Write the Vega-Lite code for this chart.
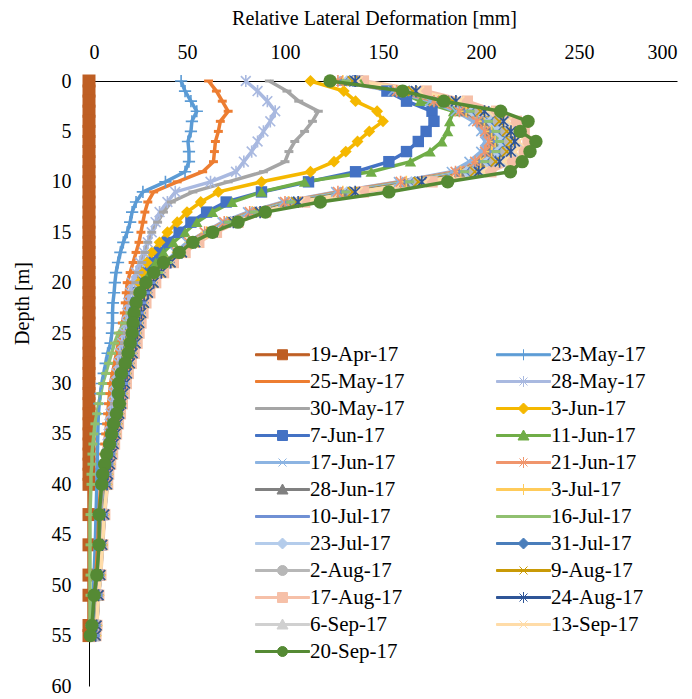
{
"$schema":"https://vega.github.io/schema/vega-lite/v6.json",
"autosize":{"type":"none"},
"width":588,"height":605,
"padding":{"left":89,"top":81,"right":15,"bottom":13},
"background":"white",
"datasets":{"prof":[
{"s":"19-Apr-17","d":0,"v":0},{"s":"19-Apr-17","d":1,"v":0},{"s":"19-Apr-17","d":2,"v":0},{"s":"19-Apr-17","d":3,"v":0},{"s":"19-Apr-17","d":4,"v":0},{"s":"19-Apr-17","d":5,"v":0},{"s":"19-Apr-17","d":6,"v":0},{"s":"19-Apr-17","d":7,"v":0},{"s":"19-Apr-17","d":8,"v":0},{"s":"19-Apr-17","d":9,"v":0},{"s":"19-Apr-17","d":10,"v":0},{"s":"19-Apr-17","d":11,"v":0},{"s":"19-Apr-17","d":12,"v":0},{"s":"19-Apr-17","d":13,"v":0},{"s":"19-Apr-17","d":14,"v":0},{"s":"19-Apr-17","d":15,"v":0},{"s":"19-Apr-17","d":16,"v":0},{"s":"19-Apr-17","d":17,"v":0},{"s":"19-Apr-17","d":18,"v":0},{"s":"19-Apr-17","d":19,"v":0},{"s":"19-Apr-17","d":20,"v":0},{"s":"19-Apr-17","d":21,"v":0},{"s":"19-Apr-17","d":22,"v":0},{"s":"19-Apr-17","d":23,"v":0},{"s":"19-Apr-17","d":24,"v":0},{"s":"19-Apr-17","d":25,"v":0},{"s":"19-Apr-17","d":26,"v":0},{"s":"19-Apr-17","d":27,"v":0},{"s":"19-Apr-17","d":28,"v":0},{"s":"19-Apr-17","d":29,"v":0},{"s":"19-Apr-17","d":30,"v":0},{"s":"19-Apr-17","d":31,"v":0},{"s":"19-Apr-17","d":32,"v":0},{"s":"19-Apr-17","d":33,"v":0},{"s":"19-Apr-17","d":34,"v":0},{"s":"19-Apr-17","d":35,"v":0},{"s":"19-Apr-17","d":36,"v":0},{"s":"19-Apr-17","d":37,"v":0},{"s":"19-Apr-17","d":38,"v":0},{"s":"19-Apr-17","d":39,"v":0},{"s":"19-Apr-17","d":40,"v":0},{"s":"19-Apr-17","d":43,"v":0},{"s":"19-Apr-17","d":46,"v":0},{"s":"19-Apr-17","d":49,"v":0},{"s":"19-Apr-17","d":51,"v":0},{"s":"19-Apr-17","d":54,"v":0},{"s":"19-Apr-17","d":55,"v":0},
{"s":"23-May-17","d":0,"v":47},{"s":"23-May-17","d":1,"v":49},{"s":"23-May-17","d":2,"v":52},{"s":"23-May-17","d":3,"v":55},{"s":"23-May-17","d":4,"v":52.5},{"s":"23-May-17","d":5,"v":52},{"s":"23-May-17","d":6,"v":50.5},{"s":"23-May-17","d":7,"v":51},{"s":"23-May-17","d":8,"v":51},{"s":"23-May-17","d":9,"v":49},{"s":"23-May-17","d":10,"v":39},{"s":"23-May-17","d":11,"v":27.5},{"s":"23-May-17","d":12,"v":24},{"s":"23-May-17","d":13,"v":22},{"s":"23-May-17","d":14,"v":21},{"s":"23-May-17","d":15,"v":19.5},{"s":"23-May-17","d":16,"v":17.5},{"s":"23-May-17","d":17,"v":16},{"s":"23-May-17","d":18,"v":14.8},{"s":"23-May-17","d":19,"v":13.8},{"s":"23-May-17","d":20,"v":13.2},{"s":"23-May-17","d":21,"v":12.8},{"s":"23-May-17","d":22,"v":12.2},{"s":"23-May-17","d":23,"v":12},{"s":"23-May-17","d":24,"v":12},{"s":"23-May-17","d":25,"v":11.7},{"s":"23-May-17","d":26,"v":11},{"s":"23-May-17","d":27,"v":9.5},{"s":"23-May-17","d":28,"v":8.5},{"s":"23-May-17","d":29,"v":7.5},{"s":"23-May-17","d":30,"v":6.5},{"s":"23-May-17","d":31,"v":5.8},{"s":"23-May-17","d":32,"v":5.2},{"s":"23-May-17","d":33,"v":4.8},{"s":"23-May-17","d":34,"v":4.6},{"s":"23-May-17","d":35,"v":4.5},{"s":"23-May-17","d":36,"v":4.4},{"s":"23-May-17","d":37,"v":4.3},{"s":"23-May-17","d":38,"v":4.2},{"s":"23-May-17","d":39,"v":4.1},{"s":"23-May-17","d":40,"v":4},{"s":"23-May-17","d":43,"v":3.6},{"s":"23-May-17","d":46,"v":3.2},{"s":"23-May-17","d":49,"v":2.6},{"s":"23-May-17","d":51,"v":2.2},{"s":"23-May-17","d":54,"v":1.5},{"s":"23-May-17","d":55,"v":1.2},
{"s":"25-May-17","d":0,"v":61},{"s":"25-May-17","d":1,"v":65},{"s":"25-May-17","d":2,"v":68},{"s":"25-May-17","d":3,"v":71},{"s":"25-May-17","d":4,"v":67},{"s":"25-May-17","d":5,"v":66},{"s":"25-May-17","d":6,"v":64.5},{"s":"25-May-17","d":7,"v":64},{"s":"25-May-17","d":8,"v":63.5},{"s":"25-May-17","d":9,"v":58},{"s":"25-May-17","d":10,"v":45},{"s":"25-May-17","d":11,"v":33},{"s":"25-May-17","d":12,"v":30},{"s":"25-May-17","d":13,"v":28.5},{"s":"25-May-17","d":14,"v":27.5},{"s":"25-May-17","d":15,"v":26.5},{"s":"25-May-17","d":16,"v":25.5},{"s":"25-May-17","d":17,"v":24},{"s":"25-May-17","d":18,"v":22.5},{"s":"25-May-17","d":19,"v":21},{"s":"25-May-17","d":20,"v":19.5},{"s":"25-May-17","d":21,"v":19},{"s":"25-May-17","d":22,"v":18.5},{"s":"25-May-17","d":23,"v":18},{"s":"25-May-17","d":24,"v":17},{"s":"25-May-17","d":25,"v":16},{"s":"25-May-17","d":26,"v":15},{"s":"25-May-17","d":27,"v":14},{"s":"25-May-17","d":28,"v":13},{"s":"25-May-17","d":29,"v":12},{"s":"25-May-17","d":30,"v":11},{"s":"25-May-17","d":31,"v":10.5},{"s":"25-May-17","d":32,"v":10},{"s":"25-May-17","d":33,"v":9.5},{"s":"25-May-17","d":34,"v":9},{"s":"25-May-17","d":35,"v":8.5},{"s":"25-May-17","d":36,"v":8},{"s":"25-May-17","d":37,"v":7.5},{"s":"25-May-17","d":38,"v":7},{"s":"25-May-17","d":39,"v":6.5},{"s":"25-May-17","d":40,"v":6},{"s":"25-May-17","d":43,"v":5},{"s":"25-May-17","d":46,"v":4.5},{"s":"25-May-17","d":49,"v":3.5},{"s":"25-May-17","d":51,"v":3},{"s":"25-May-17","d":54,"v":2},{"s":"25-May-17","d":55,"v":1.5},
{"s":"28-May-17","d":0,"v":80},{"s":"28-May-17","d":1,"v":86},{"s":"28-May-17","d":2,"v":91},{"s":"28-May-17","d":3,"v":95},{"s":"28-May-17","d":4,"v":92.5},{"s":"28-May-17","d":5,"v":89},{"s":"28-May-17","d":6,"v":86},{"s":"28-May-17","d":7,"v":83},{"s":"28-May-17","d":8,"v":79},{"s":"28-May-17","d":9,"v":75},{"s":"28-May-17","d":10,"v":62},{"s":"28-May-17","d":11,"v":44},{"s":"28-May-17","d":12,"v":40},{"s":"28-May-17","d":13,"v":36},{"s":"28-May-17","d":14,"v":34},{"s":"28-May-17","d":15,"v":32},{"s":"28-May-17","d":16,"v":30},{"s":"28-May-17","d":17,"v":28},{"s":"28-May-17","d":18,"v":26},{"s":"28-May-17","d":19,"v":24},{"s":"28-May-17","d":20,"v":22},{"s":"28-May-17","d":21,"v":21},{"s":"28-May-17","d":22,"v":20},{"s":"28-May-17","d":23,"v":19.5},{"s":"28-May-17","d":24,"v":19},{"s":"28-May-17","d":25,"v":18},{"s":"28-May-17","d":26,"v":17},{"s":"28-May-17","d":27,"v":16},{"s":"28-May-17","d":28,"v":15},{"s":"28-May-17","d":29,"v":14},{"s":"28-May-17","d":30,"v":13},{"s":"28-May-17","d":31,"v":12.5},{"s":"28-May-17","d":32,"v":12},{"s":"28-May-17","d":33,"v":11},{"s":"28-May-17","d":34,"v":10.5},{"s":"28-May-17","d":35,"v":10},{"s":"28-May-17","d":36,"v":9.5},{"s":"28-May-17","d":37,"v":9},{"s":"28-May-17","d":38,"v":8.5},{"s":"28-May-17","d":39,"v":8},{"s":"28-May-17","d":40,"v":7.5},{"s":"28-May-17","d":43,"v":6},{"s":"28-May-17","d":46,"v":5.5},{"s":"28-May-17","d":49,"v":4.5},{"s":"28-May-17","d":51,"v":3.5},{"s":"28-May-17","d":54,"v":2.5},{"s":"28-May-17","d":55,"v":2},
{"s":"30-May-17","d":0,"v":92},{"s":"30-May-17","d":1,"v":101},{"s":"30-May-17","d":2,"v":107},{"s":"30-May-17","d":3,"v":117},{"s":"30-May-17","d":4,"v":114},{"s":"30-May-17","d":5,"v":110},{"s":"30-May-17","d":6,"v":105},{"s":"30-May-17","d":7,"v":102},{"s":"30-May-17","d":8,"v":100},{"s":"30-May-17","d":9,"v":89},{"s":"30-May-17","d":10,"v":71},{"s":"30-May-17","d":11,"v":53},{"s":"30-May-17","d":12,"v":42},{"s":"30-May-17","d":13,"v":38},{"s":"30-May-17","d":14,"v":35},{"s":"30-May-17","d":15,"v":32},{"s":"30-May-17","d":16,"v":30},{"s":"30-May-17","d":17,"v":28.5},{"s":"30-May-17","d":18,"v":27},{"s":"30-May-17","d":19,"v":25.5},{"s":"30-May-17","d":20,"v":24},{"s":"30-May-17","d":21,"v":23},{"s":"30-May-17","d":22,"v":22},{"s":"30-May-17","d":23,"v":21},{"s":"30-May-17","d":24,"v":20},{"s":"30-May-17","d":25,"v":19},{"s":"30-May-17","d":26,"v":18},{"s":"30-May-17","d":27,"v":17},{"s":"30-May-17","d":28,"v":16},{"s":"30-May-17","d":29,"v":15},{"s":"30-May-17","d":30,"v":14},{"s":"30-May-17","d":31,"v":13.5},{"s":"30-May-17","d":32,"v":13},{"s":"30-May-17","d":33,"v":12},{"s":"30-May-17","d":34,"v":11.5},{"s":"30-May-17","d":35,"v":11},{"s":"30-May-17","d":36,"v":10},{"s":"30-May-17","d":37,"v":9.5},{"s":"30-May-17","d":38,"v":9},{"s":"30-May-17","d":39,"v":8.5},{"s":"30-May-17","d":40,"v":8},{"s":"30-May-17","d":43,"v":6.5},{"s":"30-May-17","d":46,"v":6},{"s":"30-May-17","d":49,"v":5},{"s":"30-May-17","d":51,"v":4},{"s":"30-May-17","d":54,"v":3},{"s":"30-May-17","d":55,"v":2.5},
{"s":"3-Jun-17","d":0,"v":113},{"s":"3-Jun-17","d":1,"v":130},{"s":"3-Jun-17","d":2,"v":136},{"s":"3-Jun-17","d":3,"v":147},{"s":"3-Jun-17","d":4,"v":150},{"s":"3-Jun-17","d":5,"v":143},{"s":"3-Jun-17","d":6,"v":137},{"s":"3-Jun-17","d":7,"v":131},{"s":"3-Jun-17","d":8,"v":125},{"s":"3-Jun-17","d":9,"v":113},{"s":"3-Jun-17","d":10,"v":88},{"s":"3-Jun-17","d":11,"v":66},{"s":"3-Jun-17","d":12,"v":57},{"s":"3-Jun-17","d":13,"v":50},{"s":"3-Jun-17","d":14,"v":45},{"s":"3-Jun-17","d":15,"v":40},{"s":"3-Jun-17","d":16,"v":36},{"s":"3-Jun-17","d":17,"v":32},{"s":"3-Jun-17","d":18,"v":29.5},{"s":"3-Jun-17","d":19,"v":27},{"s":"3-Jun-17","d":20,"v":25},{"s":"3-Jun-17","d":21,"v":24},{"s":"3-Jun-17","d":22,"v":23},{"s":"3-Jun-17","d":23,"v":22},{"s":"3-Jun-17","d":24,"v":21},{"s":"3-Jun-17","d":25,"v":20},{"s":"3-Jun-17","d":26,"v":19},{"s":"3-Jun-17","d":27,"v":18},{"s":"3-Jun-17","d":28,"v":17},{"s":"3-Jun-17","d":29,"v":16},{"s":"3-Jun-17","d":30,"v":15},{"s":"3-Jun-17","d":31,"v":14.5},{"s":"3-Jun-17","d":32,"v":14},{"s":"3-Jun-17","d":33,"v":13},{"s":"3-Jun-17","d":34,"v":12},{"s":"3-Jun-17","d":35,"v":11.5},{"s":"3-Jun-17","d":36,"v":10.5},{"s":"3-Jun-17","d":37,"v":10},{"s":"3-Jun-17","d":38,"v":9.5},{"s":"3-Jun-17","d":39,"v":9},{"s":"3-Jun-17","d":40,"v":8.5},{"s":"3-Jun-17","d":43,"v":7},{"s":"3-Jun-17","d":46,"v":6},{"s":"3-Jun-17","d":49,"v":5},{"s":"3-Jun-17","d":51,"v":4},{"s":"3-Jun-17","d":54,"v":3},{"s":"3-Jun-17","d":55,"v":2.5},
{"s":"7-Jun-17","d":0,"v":137},{"s":"7-Jun-17","d":1,"v":152},{"s":"7-Jun-17","d":2,"v":162},{"s":"7-Jun-17","d":3,"v":175},{"s":"7-Jun-17","d":4,"v":176},{"s":"7-Jun-17","d":5,"v":172},{"s":"7-Jun-17","d":6,"v":168},{"s":"7-Jun-17","d":7,"v":162},{"s":"7-Jun-17","d":8,"v":153},{"s":"7-Jun-17","d":9,"v":136},{"s":"7-Jun-17","d":10,"v":112},{"s":"7-Jun-17","d":11,"v":88},{"s":"7-Jun-17","d":12,"v":70},{"s":"7-Jun-17","d":13,"v":60},{"s":"7-Jun-17","d":14,"v":52},{"s":"7-Jun-17","d":15,"v":46},{"s":"7-Jun-17","d":16,"v":40},{"s":"7-Jun-17","d":17,"v":36},{"s":"7-Jun-17","d":18,"v":32},{"s":"7-Jun-17","d":19,"v":29},{"s":"7-Jun-17","d":20,"v":27},{"s":"7-Jun-17","d":21,"v":25},{"s":"7-Jun-17","d":22,"v":24},{"s":"7-Jun-17","d":23,"v":23},{"s":"7-Jun-17","d":24,"v":22},{"s":"7-Jun-17","d":25,"v":21},{"s":"7-Jun-17","d":26,"v":20},{"s":"7-Jun-17","d":27,"v":19},{"s":"7-Jun-17","d":28,"v":18},{"s":"7-Jun-17","d":29,"v":17},{"s":"7-Jun-17","d":30,"v":16},{"s":"7-Jun-17","d":31,"v":15},{"s":"7-Jun-17","d":32,"v":14.5},{"s":"7-Jun-17","d":33,"v":13.5},{"s":"7-Jun-17","d":34,"v":12.5},{"s":"7-Jun-17","d":35,"v":12},{"s":"7-Jun-17","d":36,"v":11},{"s":"7-Jun-17","d":37,"v":10},{"s":"7-Jun-17","d":38,"v":9.5},{"s":"7-Jun-17","d":39,"v":9},{"s":"7-Jun-17","d":40,"v":8.5},{"s":"7-Jun-17","d":43,"v":7},{"s":"7-Jun-17","d":46,"v":6},{"s":"7-Jun-17","d":49,"v":5},{"s":"7-Jun-17","d":51,"v":4},{"s":"7-Jun-17","d":54,"v":3},{"s":"7-Jun-17","d":55,"v":2.5},
{"s":"11-Jun-17","d":0,"v":138},{"s":"11-Jun-17","d":1,"v":158},{"s":"11-Jun-17","d":2,"v":169},{"s":"11-Jun-17","d":3,"v":186},{"s":"11-Jun-17","d":4,"v":184},{"s":"11-Jun-17","d":5,"v":183},{"s":"11-Jun-17","d":6,"v":180},{"s":"11-Jun-17","d":7,"v":174},{"s":"11-Jun-17","d":8,"v":164},{"s":"11-Jun-17","d":9,"v":144},{"s":"11-Jun-17","d":10,"v":110},{"s":"11-Jun-17","d":11,"v":88},{"s":"11-Jun-17","d":12,"v":73},{"s":"11-Jun-17","d":13,"v":63},{"s":"11-Jun-17","d":14,"v":55},{"s":"11-Jun-17","d":15,"v":49},{"s":"11-Jun-17","d":16,"v":43},{"s":"11-Jun-17","d":17,"v":38},{"s":"11-Jun-17","d":18,"v":34},{"s":"11-Jun-17","d":19,"v":31},{"s":"11-Jun-17","d":20,"v":28.5},{"s":"11-Jun-17","d":21,"v":26.5},{"s":"11-Jun-17","d":22,"v":25},{"s":"11-Jun-17","d":23,"v":24},{"s":"11-Jun-17","d":24,"v":23},{"s":"11-Jun-17","d":25,"v":22},{"s":"11-Jun-17","d":26,"v":21},{"s":"11-Jun-17","d":27,"v":20},{"s":"11-Jun-17","d":28,"v":19},{"s":"11-Jun-17","d":29,"v":18},{"s":"11-Jun-17","d":30,"v":17},{"s":"11-Jun-17","d":31,"v":16},{"s":"11-Jun-17","d":32,"v":15},{"s":"11-Jun-17","d":33,"v":14},{"s":"11-Jun-17","d":34,"v":13},{"s":"11-Jun-17","d":35,"v":12},{"s":"11-Jun-17","d":36,"v":11.5},{"s":"11-Jun-17","d":37,"v":10.5},{"s":"11-Jun-17","d":38,"v":10},{"s":"11-Jun-17","d":39,"v":9.5},{"s":"11-Jun-17","d":40,"v":9},{"s":"11-Jun-17","d":43,"v":7.5},{"s":"11-Jun-17","d":46,"v":6.5},{"s":"11-Jun-17","d":49,"v":5.5},{"s":"11-Jun-17","d":51,"v":4.5},{"s":"11-Jun-17","d":54,"v":3.5},{"s":"11-Jun-17","d":55,"v":3},
{"s":"17-Jun-17","d":0,"v":126},{"s":"17-Jun-17","d":1,"v":155},{"s":"17-Jun-17","d":2,"v":174},{"s":"17-Jun-17","d":3,"v":187},{"s":"17-Jun-17","d":4,"v":196},{"s":"17-Jun-17","d":5,"v":200},{"s":"17-Jun-17","d":6,"v":202},{"s":"17-Jun-17","d":7,"v":200},{"s":"17-Jun-17","d":8,"v":194},{"s":"17-Jun-17","d":9,"v":185},{"s":"17-Jun-17","d":10,"v":158},{"s":"17-Jun-17","d":11,"v":126},{"s":"17-Jun-17","d":12,"v":99},{"s":"17-Jun-17","d":13,"v":81},{"s":"17-Jun-17","d":14,"v":68},{"s":"17-Jun-17","d":15,"v":59},{"s":"17-Jun-17","d":16,"v":50},{"s":"17-Jun-17","d":17,"v":44},{"s":"17-Jun-17","d":18,"v":39},{"s":"17-Jun-17","d":19,"v":34},{"s":"17-Jun-17","d":20,"v":31},{"s":"17-Jun-17","d":21,"v":28},{"s":"17-Jun-17","d":22,"v":26},{"s":"17-Jun-17","d":23,"v":25},{"s":"17-Jun-17","d":24,"v":24},{"s":"17-Jun-17","d":25,"v":23},{"s":"17-Jun-17","d":26,"v":22},{"s":"17-Jun-17","d":27,"v":21},{"s":"17-Jun-17","d":28,"v":19.5},{"s":"17-Jun-17","d":29,"v":18},{"s":"17-Jun-17","d":30,"v":17},{"s":"17-Jun-17","d":31,"v":16},{"s":"17-Jun-17","d":32,"v":15},{"s":"17-Jun-17","d":33,"v":14.5},{"s":"17-Jun-17","d":34,"v":13.5},{"s":"17-Jun-17","d":35,"v":12.5},{"s":"17-Jun-17","d":36,"v":11.5},{"s":"17-Jun-17","d":37,"v":11},{"s":"17-Jun-17","d":38,"v":10},{"s":"17-Jun-17","d":39,"v":9},{"s":"17-Jun-17","d":40,"v":8.5},{"s":"17-Jun-17","d":43,"v":7},{"s":"17-Jun-17","d":46,"v":6.5},{"s":"17-Jun-17","d":49,"v":5.5},{"s":"17-Jun-17","d":51,"v":4.5},{"s":"17-Jun-17","d":54,"v":3.5},{"s":"17-Jun-17","d":55,"v":3.2},
{"s":"21-Jun-17","d":0,"v":127},{"s":"21-Jun-17","d":1,"v":157},{"s":"21-Jun-17","d":2,"v":176},{"s":"21-Jun-17","d":3,"v":189},{"s":"21-Jun-17","d":4,"v":198},{"s":"21-Jun-17","d":5,"v":202},{"s":"21-Jun-17","d":6,"v":204},{"s":"21-Jun-17","d":7,"v":202},{"s":"21-Jun-17","d":8,"v":197},{"s":"21-Jun-17","d":9,"v":187},{"s":"21-Jun-17","d":10,"v":159},{"s":"21-Jun-17","d":11,"v":127},{"s":"21-Jun-17","d":12,"v":100},{"s":"21-Jun-17","d":13,"v":82},{"s":"21-Jun-17","d":14,"v":69},{"s":"21-Jun-17","d":15,"v":59},{"s":"21-Jun-17","d":16,"v":51},{"s":"21-Jun-17","d":17,"v":45},{"s":"21-Jun-17","d":18,"v":39},{"s":"21-Jun-17","d":19,"v":35},{"s":"21-Jun-17","d":20,"v":31},{"s":"21-Jun-17","d":21,"v":28},{"s":"21-Jun-17","d":22,"v":26},{"s":"21-Jun-17","d":23,"v":25},{"s":"21-Jun-17","d":24,"v":24},{"s":"21-Jun-17","d":25,"v":23},{"s":"21-Jun-17","d":26,"v":22},{"s":"21-Jun-17","d":27,"v":21},{"s":"21-Jun-17","d":28,"v":19.5},{"s":"21-Jun-17","d":29,"v":18},{"s":"21-Jun-17","d":30,"v":17},{"s":"21-Jun-17","d":31,"v":16.5},{"s":"21-Jun-17","d":32,"v":15.5},{"s":"21-Jun-17","d":33,"v":14.5},{"s":"21-Jun-17","d":34,"v":13.5},{"s":"21-Jun-17","d":35,"v":12.5},{"s":"21-Jun-17","d":36,"v":12},{"s":"21-Jun-17","d":37,"v":11},{"s":"21-Jun-17","d":38,"v":10},{"s":"21-Jun-17","d":39,"v":9},{"s":"21-Jun-17","d":40,"v":8.5},{"s":"21-Jun-17","d":43,"v":7.3},{"s":"21-Jun-17","d":46,"v":6.4},{"s":"21-Jun-17","d":49,"v":5.5},{"s":"21-Jun-17","d":51,"v":4.6},{"s":"21-Jun-17","d":54,"v":3.6},{"s":"21-Jun-17","d":55,"v":3.2},
{"s":"28-Jun-17","d":0,"v":129},{"s":"28-Jun-17","d":1,"v":158},{"s":"28-Jun-17","d":2,"v":178},{"s":"28-Jun-17","d":3,"v":191},{"s":"28-Jun-17","d":4,"v":201},{"s":"28-Jun-17","d":5,"v":204},{"s":"28-Jun-17","d":6,"v":206},{"s":"28-Jun-17","d":7,"v":204},{"s":"28-Jun-17","d":8,"v":199},{"s":"28-Jun-17","d":9,"v":189},{"s":"28-Jun-17","d":10,"v":161},{"s":"28-Jun-17","d":11,"v":129},{"s":"28-Jun-17","d":12,"v":101},{"s":"28-Jun-17","d":13,"v":83},{"s":"28-Jun-17","d":14,"v":70},{"s":"28-Jun-17","d":15,"v":60},{"s":"28-Jun-17","d":16,"v":51.5},{"s":"28-Jun-17","d":17,"v":45},{"s":"28-Jun-17","d":18,"v":39.5},{"s":"28-Jun-17","d":19,"v":35},{"s":"28-Jun-17","d":20,"v":31.3},{"s":"28-Jun-17","d":21,"v":28.5},{"s":"28-Jun-17","d":22,"v":26.7},{"s":"28-Jun-17","d":23,"v":25.3},{"s":"28-Jun-17","d":24,"v":24.4},{"s":"28-Jun-17","d":25,"v":23.5},{"s":"28-Jun-17","d":26,"v":22.5},{"s":"28-Jun-17","d":27,"v":21.2},{"s":"28-Jun-17","d":28,"v":19.8},{"s":"28-Jun-17","d":29,"v":18.4},{"s":"28-Jun-17","d":30,"v":17.5},{"s":"28-Jun-17","d":31,"v":16.6},{"s":"28-Jun-17","d":32,"v":15.6},{"s":"28-Jun-17","d":33,"v":14.7},{"s":"28-Jun-17","d":34,"v":13.8},{"s":"28-Jun-17","d":35,"v":12.9},{"s":"28-Jun-17","d":36,"v":12},{"s":"28-Jun-17","d":37,"v":11},{"s":"28-Jun-17","d":38,"v":10.1},{"s":"28-Jun-17","d":39,"v":9.2},{"s":"28-Jun-17","d":40,"v":8.7},{"s":"28-Jun-17","d":43,"v":7.4},{"s":"28-Jun-17","d":46,"v":6.4},{"s":"28-Jun-17","d":49,"v":5.5},{"s":"28-Jun-17","d":51,"v":4.6},{"s":"28-Jun-17","d":54,"v":3.7},{"s":"28-Jun-17","d":55,"v":3.2},
{"s":"3-Jul-17","d":0,"v":129.5},{"s":"3-Jul-17","d":1,"v":159},{"s":"3-Jul-17","d":2,"v":178.5},{"s":"3-Jul-17","d":3,"v":192.4},{"s":"3-Jul-17","d":4,"v":201.7},{"s":"3-Jul-17","d":5,"v":205.4},{"s":"3-Jul-17","d":6,"v":207.2},{"s":"3-Jul-17","d":7,"v":205.4},{"s":"3-Jul-17","d":8,"v":199.8},{"s":"3-Jul-17","d":9,"v":189.6},{"s":"3-Jul-17","d":10,"v":161.9},{"s":"3-Jul-17","d":11,"v":129.5},{"s":"3-Jul-17","d":12,"v":101.8},{"s":"3-Jul-17","d":13,"v":83.3},{"s":"3-Jul-17","d":14,"v":70.3},{"s":"3-Jul-17","d":15,"v":60.1},{"s":"3-Jul-17","d":16,"v":51.8},{"s":"3-Jul-17","d":17,"v":45.3},{"s":"3-Jul-17","d":18,"v":39.8},{"s":"3-Jul-17","d":19,"v":35.2},{"s":"3-Jul-17","d":20,"v":31.5},{"s":"3-Jul-17","d":21,"v":28.7},{"s":"3-Jul-17","d":22,"v":26.8},{"s":"3-Jul-17","d":23,"v":25.4},{"s":"3-Jul-17","d":24,"v":24.5},{"s":"3-Jul-17","d":25,"v":23.6},{"s":"3-Jul-17","d":26,"v":22.7},{"s":"3-Jul-17","d":27,"v":21.3},{"s":"3-Jul-17","d":28,"v":19.9},{"s":"3-Jul-17","d":29,"v":18.5},{"s":"3-Jul-17","d":30,"v":17.6},{"s":"3-Jul-17","d":31,"v":16.7},{"s":"3-Jul-17","d":32,"v":15.7},{"s":"3-Jul-17","d":33,"v":14.8},{"s":"3-Jul-17","d":34,"v":13.9},{"s":"3-Jul-17","d":35,"v":13},{"s":"3-Jul-17","d":36,"v":12},{"s":"3-Jul-17","d":37,"v":11.1},{"s":"3-Jul-17","d":38,"v":10.2},{"s":"3-Jul-17","d":39,"v":9.3},{"s":"3-Jul-17","d":40,"v":8.8},{"s":"3-Jul-17","d":43,"v":7.4},{"s":"3-Jul-17","d":46,"v":6.5},{"s":"3-Jul-17","d":49,"v":5.6},{"s":"3-Jul-17","d":51,"v":4.6},{"s":"3-Jul-17","d":54,"v":3.7},{"s":"3-Jul-17","d":55,"v":3.2},
{"s":"10-Jul-17","d":0,"v":130},{"s":"10-Jul-17","d":1,"v":160},{"s":"10-Jul-17","d":2,"v":179.5},{"s":"10-Jul-17","d":3,"v":193.4},{"s":"10-Jul-17","d":4,"v":202.7},{"s":"10-Jul-17","d":5,"v":206.5},{"s":"10-Jul-17","d":6,"v":208.3},{"s":"10-Jul-17","d":7,"v":206.5},{"s":"10-Jul-17","d":8,"v":200.9},{"s":"10-Jul-17","d":9,"v":190.7},{"s":"10-Jul-17","d":10,"v":162.8},{"s":"10-Jul-17","d":11,"v":130.2},{"s":"10-Jul-17","d":12,"v":102.3},{"s":"10-Jul-17","d":13,"v":83.7},{"s":"10-Jul-17","d":14,"v":70.7},{"s":"10-Jul-17","d":15,"v":60.5},{"s":"10-Jul-17","d":16,"v":52.1},{"s":"10-Jul-17","d":17,"v":45.6},{"s":"10-Jul-17","d":18,"v":40},{"s":"10-Jul-17","d":19,"v":35.3},{"s":"10-Jul-17","d":20,"v":31.6},{"s":"10-Jul-17","d":21,"v":28.8},{"s":"10-Jul-17","d":22,"v":27},{"s":"10-Jul-17","d":23,"v":25.6},{"s":"10-Jul-17","d":24,"v":24.6},{"s":"10-Jul-17","d":25,"v":23.7},{"s":"10-Jul-17","d":26,"v":22.8},{"s":"10-Jul-17","d":27,"v":21.4},{"s":"10-Jul-17","d":28,"v":20},{"s":"10-Jul-17","d":29,"v":18.6},{"s":"10-Jul-17","d":30,"v":17.7},{"s":"10-Jul-17","d":31,"v":16.7},{"s":"10-Jul-17","d":32,"v":15.8},{"s":"10-Jul-17","d":33,"v":14.9},{"s":"10-Jul-17","d":34,"v":14},{"s":"10-Jul-17","d":35,"v":13},{"s":"10-Jul-17","d":36,"v":12.1},{"s":"10-Jul-17","d":37,"v":11.2},{"s":"10-Jul-17","d":38,"v":10.2},{"s":"10-Jul-17","d":39,"v":9.3},{"s":"10-Jul-17","d":40,"v":8.8},{"s":"10-Jul-17","d":43,"v":7.4},{"s":"10-Jul-17","d":46,"v":6.5},{"s":"10-Jul-17","d":49,"v":5.6},{"s":"10-Jul-17","d":51,"v":4.7},{"s":"10-Jul-17","d":54,"v":3.7},{"s":"10-Jul-17","d":55,"v":3.3},
{"s":"16-Jul-17","d":0,"v":131},{"s":"16-Jul-17","d":1,"v":161},{"s":"16-Jul-17","d":2,"v":180.5},{"s":"16-Jul-17","d":3,"v":194.5},{"s":"16-Jul-17","d":4,"v":203.8},{"s":"16-Jul-17","d":5,"v":207.6},{"s":"16-Jul-17","d":6,"v":209.4},{"s":"16-Jul-17","d":7,"v":207.6},{"s":"16-Jul-17","d":8,"v":202},{"s":"16-Jul-17","d":9,"v":191.7},{"s":"16-Jul-17","d":10,"v":163.6},{"s":"16-Jul-17","d":11,"v":131},{"s":"16-Jul-17","d":12,"v":102.9},{"s":"16-Jul-17","d":13,"v":84.2},{"s":"16-Jul-17","d":14,"v":71.1},{"s":"16-Jul-17","d":15,"v":60.8},{"s":"16-Jul-17","d":16,"v":52.4},{"s":"16-Jul-17","d":17,"v":45.8},{"s":"16-Jul-17","d":18,"v":40.2},{"s":"16-Jul-17","d":19,"v":35.5},{"s":"16-Jul-17","d":20,"v":30},{"s":"16-Jul-17","d":21,"v":27},{"s":"16-Jul-17","d":22,"v":24},{"s":"16-Jul-17","d":23,"v":21},{"s":"16-Jul-17","d":24,"v":18},{"s":"16-Jul-17","d":25,"v":15},{"s":"16-Jul-17","d":26,"v":13},{"s":"16-Jul-17","d":27,"v":11.5},{"s":"16-Jul-17","d":28,"v":10},{"s":"16-Jul-17","d":29,"v":8.5},{"s":"16-Jul-17","d":30,"v":7},{"s":"16-Jul-17","d":31,"v":6},{"s":"16-Jul-17","d":32,"v":5},{"s":"16-Jul-17","d":33,"v":4},{"s":"16-Jul-17","d":34,"v":3},{"s":"16-Jul-17","d":35,"v":2.5},{"s":"16-Jul-17","d":36,"v":2},{"s":"16-Jul-17","d":37,"v":1.5},{"s":"16-Jul-17","d":38,"v":1.5},{"s":"16-Jul-17","d":39,"v":1},{"s":"16-Jul-17","d":40,"v":1},{"s":"16-Jul-17","d":43,"v":0.5},{"s":"16-Jul-17","d":46,"v":0.5},{"s":"16-Jul-17","d":49,"v":0.5},{"s":"16-Jul-17","d":51,"v":0.5},{"s":"16-Jul-17","d":54,"v":0.5},{"s":"16-Jul-17","d":55,"v":0.5},
{"s":"23-Jul-17","d":0,"v":131.6},{"s":"23-Jul-17","d":1,"v":161.7},{"s":"23-Jul-17","d":2,"v":181.4},{"s":"23-Jul-17","d":3,"v":195.5},{"s":"23-Jul-17","d":4,"v":204.9},{"s":"23-Jul-17","d":5,"v":208.7},{"s":"23-Jul-17","d":6,"v":210.6},{"s":"23-Jul-17","d":7,"v":208.7},{"s":"23-Jul-17","d":8,"v":203},{"s":"23-Jul-17","d":9,"v":192.7},{"s":"23-Jul-17","d":10,"v":164.5},{"s":"23-Jul-17","d":11,"v":131.6},{"s":"23-Jul-17","d":12,"v":103.4},{"s":"23-Jul-17","d":13,"v":84.6},{"s":"23-Jul-17","d":14,"v":71.4},{"s":"23-Jul-17","d":15,"v":61.1},{"s":"23-Jul-17","d":16,"v":52.6},{"s":"23-Jul-17","d":17,"v":46.1},{"s":"23-Jul-17","d":18,"v":40.4},{"s":"23-Jul-17","d":19,"v":35.7},{"s":"23-Jul-17","d":20,"v":32},{"s":"23-Jul-17","d":21,"v":29.1},{"s":"23-Jul-17","d":22,"v":27.3},{"s":"23-Jul-17","d":23,"v":25.9},{"s":"23-Jul-17","d":24,"v":24.9},{"s":"23-Jul-17","d":25,"v":24},{"s":"23-Jul-17","d":26,"v":23},{"s":"23-Jul-17","d":27,"v":21.6},{"s":"23-Jul-17","d":28,"v":20.2},{"s":"23-Jul-17","d":29,"v":18.8},{"s":"23-Jul-17","d":30,"v":17.9},{"s":"23-Jul-17","d":31,"v":16.9},{"s":"23-Jul-17","d":32,"v":16},{"s":"23-Jul-17","d":33,"v":15},{"s":"23-Jul-17","d":34,"v":14.1},{"s":"23-Jul-17","d":35,"v":13.2},{"s":"23-Jul-17","d":36,"v":12.2},{"s":"23-Jul-17","d":37,"v":11.3},{"s":"23-Jul-17","d":38,"v":10.3},{"s":"23-Jul-17","d":39,"v":9.4},{"s":"23-Jul-17","d":40,"v":8.9},{"s":"23-Jul-17","d":43,"v":7.5},{"s":"23-Jul-17","d":46,"v":6.6},{"s":"23-Jul-17","d":49,"v":5.6},{"s":"23-Jul-17","d":51,"v":4.7},{"s":"23-Jul-17","d":54,"v":3.8},{"s":"23-Jul-17","d":55,"v":3.3},
{"s":"31-Jul-17","d":0,"v":133},{"s":"31-Jul-17","d":1,"v":163.4},{"s":"31-Jul-17","d":2,"v":183.4},{"s":"31-Jul-17","d":3,"v":197.6},{"s":"31-Jul-17","d":4,"v":207.1},{"s":"31-Jul-17","d":5,"v":210.9},{"s":"31-Jul-17","d":6,"v":212.8},{"s":"31-Jul-17","d":7,"v":210.9},{"s":"31-Jul-17","d":8,"v":205.2},{"s":"31-Jul-17","d":9,"v":194.8},{"s":"31-Jul-17","d":10,"v":166.3},{"s":"31-Jul-17","d":11,"v":133},{"s":"31-Jul-17","d":12,"v":104.5},{"s":"31-Jul-17","d":13,"v":85.5},{"s":"31-Jul-17","d":14,"v":72.2},{"s":"31-Jul-17","d":15,"v":61.8},{"s":"31-Jul-17","d":16,"v":53.2},{"s":"31-Jul-17","d":17,"v":46.6},{"s":"31-Jul-17","d":18,"v":40.9},{"s":"31-Jul-17","d":19,"v":36.1},{"s":"31-Jul-17","d":20,"v":32.3},{"s":"31-Jul-17","d":21,"v":29.5},{"s":"31-Jul-17","d":22,"v":27.6},{"s":"31-Jul-17","d":23,"v":26.1},{"s":"31-Jul-17","d":24,"v":25.2},{"s":"31-Jul-17","d":25,"v":24.2},{"s":"31-Jul-17","d":26,"v":23.3},{"s":"31-Jul-17","d":27,"v":21.9},{"s":"31-Jul-17","d":28,"v":20.4},{"s":"31-Jul-17","d":29,"v":19},{"s":"31-Jul-17","d":30,"v":18.1},{"s":"31-Jul-17","d":31,"v":17.1},{"s":"31-Jul-17","d":32,"v":16.2},{"s":"31-Jul-17","d":33,"v":15.2},{"s":"31-Jul-17","d":34,"v":14.3},{"s":"31-Jul-17","d":35,"v":13.3},{"s":"31-Jul-17","d":36,"v":12.4},{"s":"31-Jul-17","d":37,"v":11.4},{"s":"31-Jul-17","d":38,"v":10.5},{"s":"31-Jul-17","d":39,"v":9.5},{"s":"31-Jul-17","d":40,"v":9},{"s":"31-Jul-17","d":43,"v":7.6},{"s":"31-Jul-17","d":46,"v":6.7},{"s":"31-Jul-17","d":49,"v":5.7},{"s":"31-Jul-17","d":51,"v":4.8},{"s":"31-Jul-17","d":54,"v":3.8},{"s":"31-Jul-17","d":55,"v":3.3},
{"s":"2-Aug-17","d":0,"v":133.7},{"s":"2-Aug-17","d":1,"v":164.3},{"s":"2-Aug-17","d":2,"v":184.3},{"s":"2-Aug-17","d":3,"v":198.6},{"s":"2-Aug-17","d":4,"v":208.2},{"s":"2-Aug-17","d":5,"v":212},{"s":"2-Aug-17","d":6,"v":213.9},{"s":"2-Aug-17","d":7,"v":212},{"s":"2-Aug-17","d":8,"v":206.3},{"s":"2-Aug-17","d":9,"v":195.8},{"s":"2-Aug-17","d":10,"v":167.1},{"s":"2-Aug-17","d":11,"v":133.7},{"s":"2-Aug-17","d":12,"v":105.1},{"s":"2-Aug-17","d":13,"v":86},{"s":"2-Aug-17","d":14,"v":72.6},{"s":"2-Aug-17","d":15,"v":62.1},{"s":"2-Aug-17","d":16,"v":53.5},{"s":"2-Aug-17","d":17,"v":46.8},{"s":"2-Aug-17","d":18,"v":41.1},{"s":"2-Aug-17","d":19,"v":36.3},{"s":"2-Aug-17","d":20,"v":32.5},{"s":"2-Aug-17","d":21,"v":29.6},{"s":"2-Aug-17","d":22,"v":27.7},{"s":"2-Aug-17","d":23,"v":26.3},{"s":"2-Aug-17","d":24,"v":25.3},{"s":"2-Aug-17","d":25,"v":24.4},{"s":"2-Aug-17","d":26,"v":23.4},{"s":"2-Aug-17","d":27,"v":22},{"s":"2-Aug-17","d":28,"v":20.5},{"s":"2-Aug-17","d":29,"v":19.1},{"s":"2-Aug-17","d":30,"v":18.1},{"s":"2-Aug-17","d":31,"v":17.2},{"s":"2-Aug-17","d":32,"v":16.2},{"s":"2-Aug-17","d":33,"v":15.3},{"s":"2-Aug-17","d":34,"v":14.3},{"s":"2-Aug-17","d":35,"v":13.4},{"s":"2-Aug-17","d":36,"v":12.4},{"s":"2-Aug-17","d":37,"v":11.5},{"s":"2-Aug-17","d":38,"v":10.5},{"s":"2-Aug-17","d":39,"v":9.6},{"s":"2-Aug-17","d":40,"v":9.1},{"s":"2-Aug-17","d":43,"v":7.6},{"s":"2-Aug-17","d":46,"v":6.7},{"s":"2-Aug-17","d":49,"v":5.7},{"s":"2-Aug-17","d":51,"v":4.8},{"s":"2-Aug-17","d":54,"v":3.8},{"s":"2-Aug-17","d":55,"v":3.3},
{"s":"9-Aug-17","d":0,"v":134.4},{"s":"9-Aug-17","d":1,"v":165.1},{"s":"9-Aug-17","d":2,"v":185.3},{"s":"9-Aug-17","d":3,"v":199.7},{"s":"9-Aug-17","d":4,"v":209.3},{"s":"9-Aug-17","d":5,"v":213.1},{"s":"9-Aug-17","d":6,"v":215},{"s":"9-Aug-17","d":7,"v":213.1},{"s":"9-Aug-17","d":8,"v":207.4},{"s":"9-Aug-17","d":9,"v":196.8},{"s":"9-Aug-17","d":10,"v":168},{"s":"9-Aug-17","d":11,"v":134.4},{"s":"9-Aug-17","d":12,"v":105.6},{"s":"9-Aug-17","d":13,"v":86.4},{"s":"9-Aug-17","d":14,"v":73},{"s":"9-Aug-17","d":15,"v":62.4},{"s":"9-Aug-17","d":16,"v":53.8},{"s":"9-Aug-17","d":17,"v":47},{"s":"9-Aug-17","d":18,"v":41.3},{"s":"9-Aug-17","d":19,"v":36.5},{"s":"9-Aug-17","d":20,"v":32.6},{"s":"9-Aug-17","d":21,"v":29.8},{"s":"9-Aug-17","d":22,"v":27.8},{"s":"9-Aug-17","d":23,"v":26.4},{"s":"9-Aug-17","d":24,"v":25.4},{"s":"9-Aug-17","d":25,"v":24.5},{"s":"9-Aug-17","d":26,"v":23.5},{"s":"9-Aug-17","d":27,"v":22.1},{"s":"9-Aug-17","d":28,"v":20.6},{"s":"9-Aug-17","d":29,"v":19.2},{"s":"9-Aug-17","d":30,"v":18.2},{"s":"9-Aug-17","d":31,"v":17.3},{"s":"9-Aug-17","d":32,"v":16.3},{"s":"9-Aug-17","d":33,"v":15.4},{"s":"9-Aug-17","d":34,"v":14.4},{"s":"9-Aug-17","d":35,"v":13.4},{"s":"9-Aug-17","d":36,"v":12.5},{"s":"9-Aug-17","d":37,"v":11.5},{"s":"9-Aug-17","d":38,"v":10.6},{"s":"9-Aug-17","d":39,"v":9.6},{"s":"9-Aug-17","d":40,"v":9.1},{"s":"9-Aug-17","d":43,"v":7.7},{"s":"9-Aug-17","d":46,"v":6.7},{"s":"9-Aug-17","d":49,"v":5.8},{"s":"9-Aug-17","d":51,"v":4.8},{"s":"9-Aug-17","d":54,"v":3.8},{"s":"9-Aug-17","d":55,"v":3.4},
{"s":"17-Aug-17","d":0,"v":140},{"s":"17-Aug-17","d":1,"v":172},{"s":"17-Aug-17","d":2,"v":193},{"s":"17-Aug-17","d":3,"v":208},{"s":"17-Aug-17","d":4,"v":218},{"s":"17-Aug-17","d":5,"v":222},{"s":"17-Aug-17","d":6,"v":224},{"s":"17-Aug-17","d":7,"v":222},{"s":"17-Aug-17","d":8,"v":216},{"s":"17-Aug-17","d":9,"v":205},{"s":"17-Aug-17","d":10,"v":175},{"s":"17-Aug-17","d":11,"v":140},{"s":"17-Aug-17","d":12,"v":110},{"s":"17-Aug-17","d":13,"v":90},{"s":"17-Aug-17","d":14,"v":76},{"s":"17-Aug-17","d":15,"v":65},{"s":"17-Aug-17","d":16,"v":56},{"s":"17-Aug-17","d":17,"v":49},{"s":"17-Aug-17","d":18,"v":43},{"s":"17-Aug-17","d":19,"v":38},{"s":"17-Aug-17","d":20,"v":34},{"s":"17-Aug-17","d":21,"v":31},{"s":"17-Aug-17","d":22,"v":29},{"s":"17-Aug-17","d":23,"v":27.5},{"s":"17-Aug-17","d":24,"v":26.5},{"s":"17-Aug-17","d":25,"v":25.5},{"s":"17-Aug-17","d":26,"v":24.5},{"s":"17-Aug-17","d":27,"v":23},{"s":"17-Aug-17","d":28,"v":21.5},{"s":"17-Aug-17","d":29,"v":20},{"s":"17-Aug-17","d":30,"v":19},{"s":"17-Aug-17","d":31,"v":18},{"s":"17-Aug-17","d":32,"v":17},{"s":"17-Aug-17","d":33,"v":16},{"s":"17-Aug-17","d":34,"v":15},{"s":"17-Aug-17","d":35,"v":14},{"s":"17-Aug-17","d":36,"v":13},{"s":"17-Aug-17","d":37,"v":12},{"s":"17-Aug-17","d":38,"v":11},{"s":"17-Aug-17","d":39,"v":10},{"s":"17-Aug-17","d":40,"v":9.5},{"s":"17-Aug-17","d":43,"v":8},{"s":"17-Aug-17","d":46,"v":7},{"s":"17-Aug-17","d":49,"v":6},{"s":"17-Aug-17","d":51,"v":5},{"s":"17-Aug-17","d":54,"v":4},{"s":"17-Aug-17","d":55,"v":3.5},
{"s":"24-Aug-17","d":0,"v":135.8},{"s":"24-Aug-17","d":1,"v":166.8},{"s":"24-Aug-17","d":2,"v":187.2},{"s":"24-Aug-17","d":3,"v":201.8},{"s":"24-Aug-17","d":4,"v":211.5},{"s":"24-Aug-17","d":5,"v":215.3},{"s":"24-Aug-17","d":6,"v":217.3},{"s":"24-Aug-17","d":7,"v":215.3},{"s":"24-Aug-17","d":8,"v":209.5},{"s":"24-Aug-17","d":9,"v":198.9},{"s":"24-Aug-17","d":10,"v":169.8},{"s":"24-Aug-17","d":11,"v":135.8},{"s":"24-Aug-17","d":12,"v":106.7},{"s":"24-Aug-17","d":13,"v":87.3},{"s":"24-Aug-17","d":14,"v":73.7},{"s":"24-Aug-17","d":15,"v":63.1},{"s":"24-Aug-17","d":16,"v":54.3},{"s":"24-Aug-17","d":17,"v":47.5},{"s":"24-Aug-17","d":18,"v":41.7},{"s":"24-Aug-17","d":19,"v":36.9},{"s":"24-Aug-17","d":20,"v":33},{"s":"24-Aug-17","d":21,"v":30.1},{"s":"24-Aug-17","d":22,"v":28.1},{"s":"24-Aug-17","d":23,"v":26.7},{"s":"24-Aug-17","d":24,"v":25.7},{"s":"24-Aug-17","d":25,"v":24.7},{"s":"24-Aug-17","d":26,"v":23.8},{"s":"24-Aug-17","d":27,"v":22.3},{"s":"24-Aug-17","d":28,"v":20.9},{"s":"24-Aug-17","d":29,"v":19.4},{"s":"24-Aug-17","d":30,"v":18.4},{"s":"24-Aug-17","d":31,"v":17.5},{"s":"24-Aug-17","d":32,"v":16.5},{"s":"24-Aug-17","d":33,"v":15.5},{"s":"24-Aug-17","d":34,"v":14.6},{"s":"24-Aug-17","d":35,"v":13.6},{"s":"24-Aug-17","d":36,"v":12.6},{"s":"24-Aug-17","d":37,"v":11.6},{"s":"24-Aug-17","d":38,"v":10.7},{"s":"24-Aug-17","d":39,"v":9.7},{"s":"24-Aug-17","d":40,"v":9.2},{"s":"24-Aug-17","d":43,"v":7.8},{"s":"24-Aug-17","d":46,"v":6.8},{"s":"24-Aug-17","d":49,"v":5.8},{"s":"24-Aug-17","d":51,"v":4.9},{"s":"24-Aug-17","d":54,"v":3.9},{"s":"24-Aug-17","d":55,"v":3.4},
{"s":"6-Sep-17","d":0,"v":136.5},{"s":"6-Sep-17","d":1,"v":167.7},{"s":"6-Sep-17","d":2,"v":188.2},{"s":"6-Sep-17","d":3,"v":202.8},{"s":"6-Sep-17","d":4,"v":212.6},{"s":"6-Sep-17","d":5,"v":216.5},{"s":"6-Sep-17","d":6,"v":218.4},{"s":"6-Sep-17","d":7,"v":216.5},{"s":"6-Sep-17","d":8,"v":210.6},{"s":"6-Sep-17","d":9,"v":199.9},{"s":"6-Sep-17","d":10,"v":170.6},{"s":"6-Sep-17","d":11,"v":136.5},{"s":"6-Sep-17","d":12,"v":107.3},{"s":"6-Sep-17","d":13,"v":87.8},{"s":"6-Sep-17","d":14,"v":74.1},{"s":"6-Sep-17","d":15,"v":63.4},{"s":"6-Sep-17","d":16,"v":54.6},{"s":"6-Sep-17","d":17,"v":47.8},{"s":"6-Sep-17","d":18,"v":41.9},{"s":"6-Sep-17","d":19,"v":37.1},{"s":"6-Sep-17","d":20,"v":33.2},{"s":"6-Sep-17","d":21,"v":30.2},{"s":"6-Sep-17","d":22,"v":28.3},{"s":"6-Sep-17","d":23,"v":26.8},{"s":"6-Sep-17","d":24,"v":25.8},{"s":"6-Sep-17","d":25,"v":24.9},{"s":"6-Sep-17","d":26,"v":23.9},{"s":"6-Sep-17","d":27,"v":22.4},{"s":"6-Sep-17","d":28,"v":21},{"s":"6-Sep-17","d":29,"v":19.5},{"s":"6-Sep-17","d":30,"v":18.5},{"s":"6-Sep-17","d":31,"v":17.6},{"s":"6-Sep-17","d":32,"v":16.6},{"s":"6-Sep-17","d":33,"v":15.6},{"s":"6-Sep-17","d":34,"v":14.6},{"s":"6-Sep-17","d":35,"v":13.7},{"s":"6-Sep-17","d":36,"v":12.7},{"s":"6-Sep-17","d":37,"v":11.7},{"s":"6-Sep-17","d":38,"v":10.7},{"s":"6-Sep-17","d":39,"v":9.8},{"s":"6-Sep-17","d":40,"v":9.3},{"s":"6-Sep-17","d":43,"v":7.8},{"s":"6-Sep-17","d":46,"v":6.8},{"s":"6-Sep-17","d":49,"v":5.9},{"s":"6-Sep-17","d":51,"v":4.9},{"s":"6-Sep-17","d":54,"v":3.9},{"s":"6-Sep-17","d":55,"v":3.4},
{"s":"13-Sep-17","d":0,"v":137.2},{"s":"13-Sep-17","d":1,"v":168.6},{"s":"13-Sep-17","d":2,"v":189.1},{"s":"13-Sep-17","d":3,"v":203.8},{"s":"13-Sep-17","d":4,"v":213.6},{"s":"13-Sep-17","d":5,"v":217.6},{"s":"13-Sep-17","d":6,"v":219.5},{"s":"13-Sep-17","d":7,"v":217.6},{"s":"13-Sep-17","d":8,"v":211.7},{"s":"13-Sep-17","d":9,"v":200.9},{"s":"13-Sep-17","d":10,"v":171.5},{"s":"13-Sep-17","d":11,"v":137.2},{"s":"13-Sep-17","d":12,"v":107.8},{"s":"13-Sep-17","d":13,"v":88.2},{"s":"13-Sep-17","d":14,"v":74.5},{"s":"13-Sep-17","d":15,"v":63.7},{"s":"13-Sep-17","d":16,"v":54.9},{"s":"13-Sep-17","d":17,"v":48},{"s":"13-Sep-17","d":18,"v":42.1},{"s":"13-Sep-17","d":19,"v":37.2},{"s":"13-Sep-17","d":20,"v":33.3},{"s":"13-Sep-17","d":21,"v":30.4},{"s":"13-Sep-17","d":22,"v":28.4},{"s":"13-Sep-17","d":23,"v":27},{"s":"13-Sep-17","d":24,"v":26},{"s":"13-Sep-17","d":25,"v":25},{"s":"13-Sep-17","d":26,"v":24},{"s":"13-Sep-17","d":27,"v":22.5},{"s":"13-Sep-17","d":28,"v":21.1},{"s":"13-Sep-17","d":29,"v":19.6},{"s":"13-Sep-17","d":30,"v":18.6},{"s":"13-Sep-17","d":31,"v":17.6},{"s":"13-Sep-17","d":32,"v":16.7},{"s":"13-Sep-17","d":33,"v":15.7},{"s":"13-Sep-17","d":34,"v":14.7},{"s":"13-Sep-17","d":35,"v":13.7},{"s":"13-Sep-17","d":36,"v":12.7},{"s":"13-Sep-17","d":37,"v":11.8},{"s":"13-Sep-17","d":38,"v":10.8},{"s":"13-Sep-17","d":39,"v":9.8},{"s":"13-Sep-17","d":40,"v":9.3},{"s":"13-Sep-17","d":43,"v":7.8},{"s":"13-Sep-17","d":46,"v":6.9},{"s":"13-Sep-17","d":49,"v":5.9},{"s":"13-Sep-17","d":51,"v":4.9},{"s":"13-Sep-17","d":54,"v":3.9},{"s":"13-Sep-17","d":55,"v":3.4},
{"s":"20-Sep-17","d":0,"v":123},{"s":"20-Sep-17","d":1,"v":160},{"s":"20-Sep-17","d":2,"v":181},{"s":"20-Sep-17","d":3,"v":210},{"s":"20-Sep-17","d":4,"v":224},{"s":"20-Sep-17","d":5,"v":220},{"s":"20-Sep-17","d":6,"v":228},{"s":"20-Sep-17","d":7,"v":225},{"s":"20-Sep-17","d":8,"v":221},{"s":"20-Sep-17","d":9,"v":215},{"s":"20-Sep-17","d":10,"v":183},{"s":"20-Sep-17","d":11,"v":153},{"s":"20-Sep-17","d":12,"v":118},{"s":"20-Sep-17","d":13,"v":90},{"s":"20-Sep-17","d":14,"v":76},{"s":"20-Sep-17","d":15,"v":63},{"s":"20-Sep-17","d":16,"v":53},{"s":"20-Sep-17","d":17,"v":46},{"s":"20-Sep-17","d":18,"v":38},{"s":"20-Sep-17","d":19,"v":33},{"s":"20-Sep-17","d":20,"v":29},{"s":"20-Sep-17","d":21,"v":26},{"s":"20-Sep-17","d":22,"v":24},{"s":"20-Sep-17","d":23,"v":23},{"s":"20-Sep-17","d":24,"v":22.5},{"s":"20-Sep-17","d":25,"v":22},{"s":"20-Sep-17","d":26,"v":21},{"s":"20-Sep-17","d":27,"v":20},{"s":"20-Sep-17","d":28,"v":18.5},{"s":"20-Sep-17","d":29,"v":16.5},{"s":"20-Sep-17","d":30,"v":15},{"s":"20-Sep-17","d":31,"v":15},{"s":"20-Sep-17","d":32,"v":15.5},{"s":"20-Sep-17","d":33,"v":14},{"s":"20-Sep-17","d":34,"v":12.5},{"s":"20-Sep-17","d":35,"v":11.5},{"s":"20-Sep-17","d":36,"v":10.5},{"s":"20-Sep-17","d":37,"v":9},{"s":"20-Sep-17","d":38,"v":8},{"s":"20-Sep-17","d":39,"v":7},{"s":"20-Sep-17","d":40,"v":6.5},{"s":"20-Sep-17","d":43,"v":5.2},{"s":"20-Sep-17","d":46,"v":5.1},{"s":"20-Sep-17","d":49,"v":4},{"s":"20-Sep-17","d":51,"v":2.6},{"s":"20-Sep-17","d":54,"v":1.5},{"s":"20-Sep-17","d":55,"v":0.7}
]},
"data":{"name":"prof"},
"encoding":{
 "x":{"field":"v","type":"quantitative","scale":{"domain":[0,300],"nice":false,"zero":false},
  "axis":{"orient":"top","values":[0,50,100,150,200,250,300],"title":"Relative Lateral Deformation [mm]","labelFont":"Liberation Serif","labelFontSize":20,"labelPadding":19,"titleFont":"Liberation Serif","titleFontSize":20,"titleX":285,"titleY":-63,"titleAlign":"center","titleBaseline":"middle","titleAnchor":null}},
 "y":{"field":"d","type":"quantitative","scale":{"domain":[0,60],"nice":false,"zero":false,"reverse":true},
  "axis":{"values":[0,5,10,15,20,25,30,35,40,45,50,55,60],"title":"Depth [m]","labelFont":"Liberation Serif","labelFontSize":20,"labelPadding":18,"titleFont":"Liberation Serif","titleFontSize":20,"titleX":-67,"titleY":222,"titleAngle":-90,"titleAlign":"center","titleBaseline":"middle","titleAnchor":null}},
 "color":{"field":"s","type":"nominal",
  "legend":{"orient":"none","direction":"horizontal","legendX":160,"legendY":263,"columns":2,"columnPadding":85,"rowPadding":5,"symbolSize":100,"symbolOffset":23,"labelOffset":17,"title":null,"padding":0,"labelLimit":0,"labelFont":"Liberation Serif","labelFontSize":21,"labelColor":"#000","symbolStrokeWidth":1,"symbolOpacity":1,
   "encode":{"symbols":{"update":{"fill":{"scale":"color","field":"value"},"stroke":{"scale":"color","field":"value"},"strokeWidth":{"value":1},"opacity":{"value":1}}}}},
  "scale":{
  "domain":["19-Apr-17","23-May-17","25-May-17","28-May-17","30-May-17","3-Jun-17","7-Jun-17","11-Jun-17","17-Jun-17","21-Jun-17","28-Jun-17","3-Jul-17","10-Jul-17","16-Jul-17","23-Jul-17","31-Jul-17","2-Aug-17","9-Aug-17","17-Aug-17","24-Aug-17","6-Sep-17","13-Sep-17","20-Sep-17"],
  "range":["#BE5E23","#5B9BD5","#ED7D31","#A9B9E0","#A5A5A5","#F5B800","#4472C4","#70AD47","#8CB4E2","#F0956C","#808080","#FFCB5A","#7090D4","#90C070","#B4CCEB","#4A7EBB","#B7B7B7","#C99A06","#F6C0A8","#2E5597","#D0D0D0","#FFDCA8","#558A34"]}}
},
"layer":[
 {"transform":[{"filter":"datum.s==='19-Apr-17'"}],"mark":{"type":"line","strokeWidth":3.5,"clip":false},"encoding":{"order":{"field":"d","type":"quantitative"}}},
 {"transform":[{"filter":"datum.s==='19-Apr-17'"}],"mark":{"type":"point","shape":"square","filled":true,"size":169,"opacity":1,"clip":false}},
 {"transform":[{"filter":"datum.s!=='19-Apr-17' && datum.s!=='20-Sep-17'"}],"mark":{"type":"line","strokeWidth":3.5,"clip":false},"encoding":{"order":{"field":"d","type":"quantitative"}}},
 {"transform":[{"filter":{"field":"s","oneOf":["7-Jun-17","17-Aug-17"]}}],"mark":{"type":"point","shape":"square","filled":true,"size":130,"opacity":1,"clip":false}},
 {"transform":[{"filter":{"field":"s","oneOf":["3-Jun-17","23-Jul-17","31-Jul-17"]}}],"mark":{"type":"point","shape":"diamond","filled":true,"size":140,"opacity":1,"clip":false}},
 {"transform":[{"filter":{"field":"s","oneOf":["11-Jun-17","28-Jun-17","6-Sep-17"]}}],"mark":{"type":"point","shape":"triangle-up","filled":true,"size":130,"opacity":1,"clip":false}},
 {"transform":[{"filter":{"field":"s","oneOf":["2-Aug-17"]}}],"mark":{"type":"point","shape":"circle","filled":true,"size":90,"opacity":1,"clip":false}},
 {"transform":[{"filter":{"field":"s","oneOf":["23-May-17","3-Jul-17"]}}],"mark":{"type":"point","shape":"M-1,0H1M0,-1V1","filled":false,"size":150,"strokeWidth":1.6,"opacity":1,"clip":false}},
 {"transform":[{"filter":{"field":"s","oneOf":["17-Jun-17","9-Aug-17","13-Sep-17"]}}],"mark":{"type":"point","shape":"M-0.8,-0.8L0.8,0.8M-0.8,0.8L0.8,-0.8","filled":false,"size":140,"strokeWidth":1.6,"opacity":1,"clip":false}},
 {"transform":[{"filter":{"field":"s","oneOf":["28-May-17","21-Jun-17","24-Aug-17"]}}],"mark":{"type":"point","shape":"M-0.8,-0.8L0.8,0.8M-0.8,0.8L0.8,-0.8M0,-1V1","filled":false,"size":150,"strokeWidth":1.6,"opacity":1,"clip":false}},
 {"transform":[{"filter":{"field":"s","oneOf":["25-May-17","30-May-17","10-Jul-17","16-Jul-17"]}}],"mark":{"type":"point","shape":"M-1,0H1","filled":false,"size":80,"strokeWidth":3,"opacity":1,"clip":false}},
 {"transform":[{"filter":"datum.s==='20-Sep-17'"}],"mark":{"type":"line","strokeWidth":3.5,"clip":false},"encoding":{"order":{"field":"d","type":"quantitative"}}},
 {"transform":[{"filter":"datum.s==='20-Sep-17'"}],"mark":{"type":"point","shape":"circle","filled":true,"size":180,"opacity":1,"clip":false}},
 {"transform":[{"filter":"false"}],"mark":{"type":"point","filled":true,"opacity":1},
  "encoding":{
   "shape":{"field":"s","type":"nominal","legend":{"orient":"none","direction":"horizontal","legendX":160,"legendY":263,"columns":2,"columnPadding":85,"rowPadding":5,"symbolSize":100,"symbolOffset":23,"labelOffset":17,"title":null,"padding":0,"labelLimit":0,"labelFont":"Liberation Serif","labelFontSize":21,"labelColor":"#000","symbolStrokeWidth":1,"symbolOpacity":1,
     "encode":{"symbols":{"update":{"fill":{"scale":"color","field":"value"},"stroke":{"scale":"color","field":"value"},"strokeWidth":{"value":1},"opacity":{"value":1}}}}},
    "scale":{"domain":["19-Apr-17","23-May-17","25-May-17","28-May-17","30-May-17","3-Jun-17","7-Jun-17","11-Jun-17","17-Jun-17","21-Jun-17","28-Jun-17","3-Jul-17","10-Jul-17","16-Jul-17","23-Jul-17","31-Jul-17","2-Aug-17","9-Aug-17","17-Aug-17","24-Aug-17","6-Sep-17","13-Sep-17","20-Sep-17"],
     "range":[
      "M-5.4,-0.2H5.4V0.2H-5.4ZM-1,-1H1V1H-1Z",
      "M-5.4,-0.2H5.4V0.2H-5.4ZM0,-1.1V1.1",
      "M-5.4,-0.2H5.4V0.2H-5.4Z",
      "M-5.4,-0.2H5.4V0.2H-5.4ZM-0.8,-0.8L0.8,0.8M-0.8,0.8L0.8,-0.8M0,-1.1V1.1",
      "M-5.4,-0.2H5.4V0.2H-5.4Z",
      "M-5.4,-0.2H5.4V0.2H-5.4ZM0,-1.1L1.1,0L0,1.1L-1.1,0Z",
      "M-5.4,-0.2H5.4V0.2H-5.4ZM-1,-1H1V1H-1Z",
      "M-5.4,-0.2H5.4V0.2H-5.4ZM0,-1.1L1.1,0.9H-1.1Z",
      "M-5.4,-0.2H5.4V0.2H-5.4ZM-0.8,-0.8L0.8,0.8M-0.8,0.8L0.8,-0.8",
      "M-5.4,-0.2H5.4V0.2H-5.4ZM-0.8,-0.8L0.8,0.8M-0.8,0.8L0.8,-0.8M0,-1.1V1.1",
      "M-5.4,-0.2H5.4V0.2H-5.4ZM0,-1.1L1.1,0.9H-1.1Z",
      "M-5.4,-0.2H5.4V0.2H-5.4ZM0,-1.1V1.1",
      "M-5.4,-0.2H5.4V0.2H-5.4Z",
      "M-5.4,-0.2H5.4V0.2H-5.4Z",
      "M-5.4,-0.2H5.4V0.2H-5.4ZM0,-1.1L1.1,0L0,1.1L-1.1,0Z",
      "M-5.4,-0.2H5.4V0.2H-5.4ZM0,-1.1L1.1,0L0,1.1L-1.1,0Z",
      "M-5.4,-0.2H5.4V0.2H-5.4ZM-1,0A1,1 0 1,1 1,0A1,1 0 1,1 -1,0Z",
      "M-5.4,-0.2H5.4V0.2H-5.4ZM-0.8,-0.8L0.8,0.8M-0.8,0.8L0.8,-0.8",
      "M-5.4,-0.2H5.4V0.2H-5.4ZM-1,-1H1V1H-1Z",
      "M-5.4,-0.2H5.4V0.2H-5.4ZM-0.8,-0.8L0.8,0.8M-0.8,0.8L0.8,-0.8M0,-1.1V1.1",
      "M-5.4,-0.2H5.4V0.2H-5.4ZM0,-1.1L1.1,0.9H-1.1Z",
      "M-5.4,-0.2H5.4V0.2H-5.4ZM-0.8,-0.8L0.8,0.8M-0.8,0.8L0.8,-0.8",
      "M-5.4,-0.2H5.4V0.2H-5.4ZM-1,0A1,1 0 1,1 1,0A1,1 0 1,1 -1,0Z"]}}
  }}
],
"config":{
 "font":"Liberation Serif",
 "view":{"stroke":null},
 "legend":{"labelFont":"Liberation Serif"},
 "axis":{"grid":false,"ticks":false,"tickSize":0,"domainColor":"#000","domainWidth":1,"labelColor":"#000","titleColor":"#000","titleFontWeight":"normal","labelFont":"Liberation Serif","titleFont":"Liberation Serif"}
}
}
